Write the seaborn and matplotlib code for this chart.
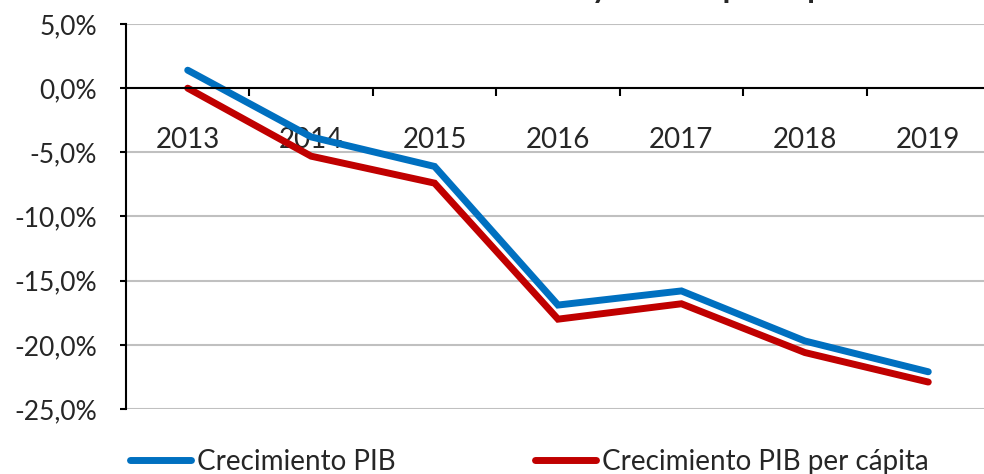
import matplotlib

matplotlib.use("Agg")

import matplotlib.pyplot as plt
import pandas as pd
import seaborn as sns
from matplotlib.ticker import FuncFormatter, FixedLocator

years = ["2013", "2014", "2015", "2016", "2017", "2018", "2019"]
pib = [1.4, -3.8, -6.1, -16.9, -15.8, -19.7, -22.1]
pib_pc = [0.0, -5.3, -7.4, -18.0, -16.8, -20.6, -22.9]
series_names = ["Crecimiento PIB", "Crecimiento PIB per cápita"]
colors = ["#0070C0", "#C00000"]
title = "Crecimiento del PIB y del PIB per cápita"

df = pd.DataFrame({"year": years, series_names[0]: pib, series_names[1]: pib_pc})
long_df = df.melt(id_vars="year", var_name="serie", value_name="valor")

sns.set_style("white")
plt.rcParams["font.family"] = ["Lato", "DejaVu Sans"]

fig = plt.figure(figsize=(9.84, 4.74), dpi=100)
ax = fig.add_axes([126 / 984, 1 - 409 / 474, 864 / 984, 385 / 474])

sns.lineplot(
    data=long_df,
    x="year",
    y="valor",
    hue="serie",
    palette=colors,
    linewidth=5,
    solid_capstyle="round",
    solid_joinstyle="miter",
    ax=ax,
    legend=False,
)

ax.set_xlim(-0.5, len(years) - 0.5)
ax.set_ylim(-25, 5)
ax.set_yticks(range(-25, 6, 5))
ax.yaxis.set_major_formatter(FuncFormatter(lambda v, _: f"{v:.1f}%".replace(".", ",")))
ax.grid(axis="y", color="#c0c0c0", linewidth=1.5)
ax.set_axisbelow(True)
ax.set_xlabel("")
ax.set_ylabel("")

for side in ["top", "right"]:
    ax.spines[side].set_visible(False)
ax.spines["left"].set_color("black")
ax.spines["left"].set_linewidth(1.5)
ax.spines["bottom"].set_position(("data", 0))
ax.spines["bottom"].set_color("black")
ax.spines["bottom"].set_linewidth(1.5)

ax.tick_params(axis="y", direction="out", length=4, width=1.5, color="black",
               labelsize=19, pad=17, left=True)
ax.tick_params(axis="x", which="major", length=0, labelsize=20, pad=28)
ax.xaxis.set_minor_locator(FixedLocator([i + 0.5 for i in range(len(years) - 1)]))
ax.tick_params(axis="x", which="minor", direction="out", length=6, width=1.5,
               color="black", bottom=True)

handles = [plt.Line2D([], [], color=c, linewidth=5, solid_capstyle="round") for c in colors]
fig.legend(handles, series_names, loc="center left", ncol=2, frameon=False,
           fontsize=20, bbox_to_anchor=(0.132, 0.026), borderpad=0,
           borderaxespad=0, handlelength=2.2, handletextpad=0.22,
           columnspacing=5.0)

fig.text(0.593, 1.004, title, ha="center", va="baseline", fontsize=22.5,
         fontweight="bold")

fig.savefig("out.png", dpi=100)
